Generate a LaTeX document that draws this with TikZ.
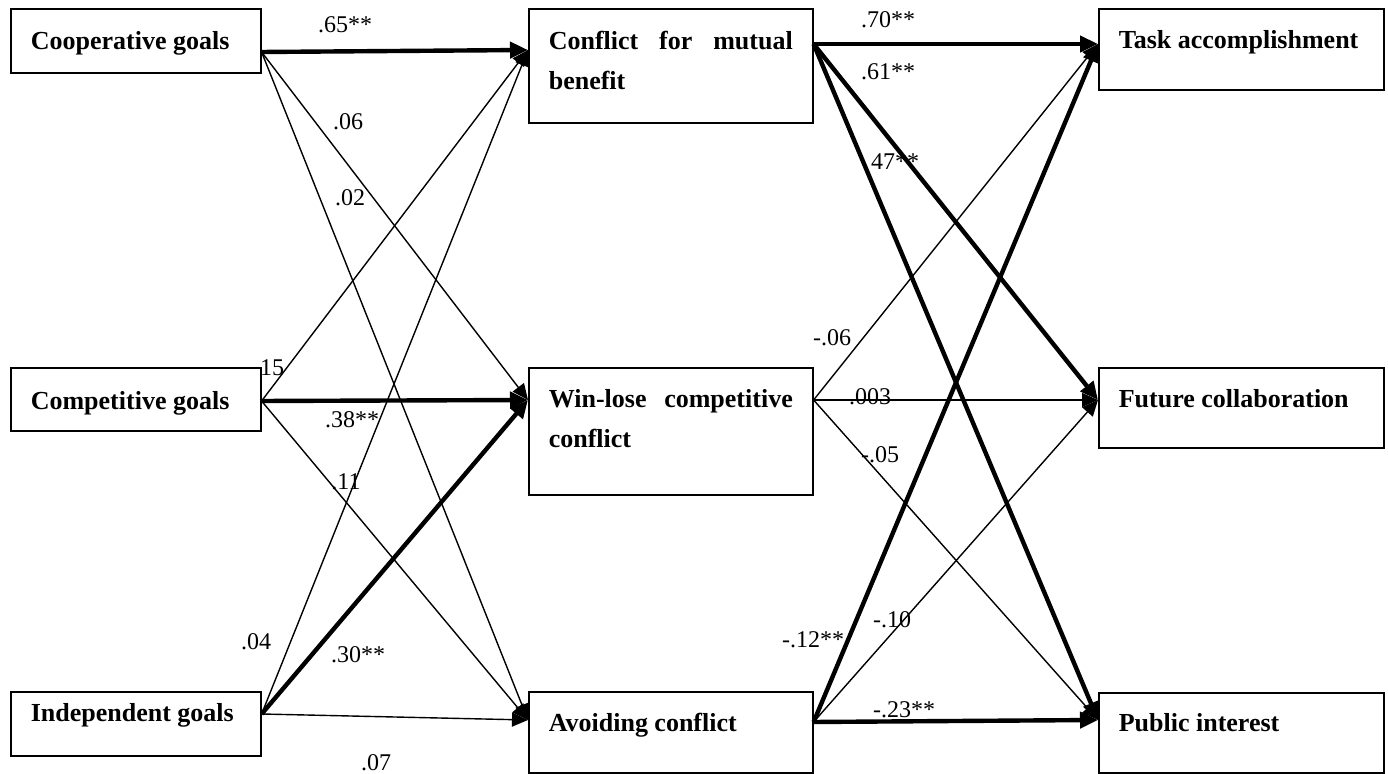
\documentclass[tikz,border=0pt]{standalone}
\usepackage{fontspec}
\setmainfont{Liberation Serif}
\usetikzlibrary{
    arrows.meta,
    calc,
    positioning,
}
% first-line height, last-line depth, text
\newcommand{\boxtext}[3]{\noindent\rule{0pt}{#1}#3\rule[-#2]{0pt}{0pt}}

\begin{document}
\begin{tikzpicture}[x=0.5pt,y=-0.5pt,>={Triangle[length=8pt,width=7pt]}]

                \tikzstyle{commonNode}=[anchor=north west, inner xsep=10pt, inner ysep=0pt, align=justify, font=\bfseries\fontsize{13}{20}\selectfont, line width=0.8pt, draw=black]
                \tikzstyle{leftBox}=[commonNode, text width=105pt]
                \tikzstyle{midBox}=[commonNode, text width=122pt]
                \tikzstyle{rightBox}=[commonNode, text width=122.5pt]
                \tikzstyle{weight}=[font=\fontsize{12}{14}\selectfont, inner sep=0pt]
                \tikzstyle{weak}=[->, line width=0.7pt]
                \tikzstyle{strong}=[-{Triangle[length=9pt,width=8pt]}, line width=2.2pt]

                \useasboundingbox (0,0) rectangle (1388,774);

                % Goal interdependence
                \node at (10,8) [leftBox] (coop) {\boxtext{20.4pt}{11.6pt}{Cooperative goals}};
                \node at (10,367) [leftBox] (comp) {\boxtext{20.9pt}{10.6pt}{Competitive goals}};
                \node at (10,691) [leftBox] (indep) {\boxtext{14.9pt}{17.1pt}{Independent goals}};

                % Conflict approaches
                \node at (528,8) [midBox] (conf) {\boxtext{20.4pt}{16.6pt}{Conflict for mutual benefit}};
                \node at (528,367) [midBox] (win) {\boxtext{19.9pt}{23.6pt}{Win-lose competitive conflict}};
                \node at (528,691) [midBox] (avoid) {\boxtext{19.9pt}{20.6pt}{Avoiding conflict}};

                % Outcomes
                \node at (1098,8) [rightBox] (task) {\boxtext{19.9pt}{20.6pt}{Task accomplishment}};
                \node at (1098,367) [rightBox] (future) {\boxtext{19.9pt}{20.1pt}{Future collaboration}};
                \node at (1098,692) [rightBox] (public) {\boxtext{19.4pt}{20.6pt}{Public interest}};

                % Attachment points
                \coordinate (coop-r) at ($(coop.north east)+(0,44)$);
                \coordinate (comp-r) at ($(comp.north east)+(0,34)$);
                \coordinate (indep-r) at ($(indep.north east)+(0,23)$);
                \coordinate (conf-l) at ($(conf.north west)+(0,42)$);
                \coordinate (conf-r) at ($(conf.north east)+(0,36)$);
                \coordinate (win-l) at ($(win.north west)+(0,33)$);
                \coordinate (win-r) at ($(win.north east)+(0,33)$);
                \coordinate (avoid-l) at ($(avoid.north west)+(0,29)$);
                \coordinate (avoid-r) at ($(avoid.north east)+(0,31)$);
                \coordinate (task-l) at ($(task.north west)+(0,36)$);
                \coordinate (future-l) at ($(future.north west)+(0,33)$);
                \coordinate (public-l) at ($(public.north west)+(0,28)$);

                % Paths, first stage
                \draw [strong] (coop-r) -- (conf-l);
                \draw [weak] (coop-r) -- (win-l);
                \draw [weak] (coop-r) -- (avoid-l);
                \draw [weak] (comp-r) -- (conf-l);
                \draw [strong] (comp-r) -- (win-l);
                \draw [weak] (comp-r) -- (avoid-l);
                \draw [weak] (indep-r) -- (conf-l);
                \draw [strong] (indep-r) -- (win-l);
                \draw [weak] (indep-r) -- (avoid-l);

                % Paths, second stage
                \draw [strong] (conf-r) -- (task-l);
                \draw [strong] (conf-r) -- (future-l);
                \draw [strong] (conf-r) -- (public-l);
                \draw [weak] (win-r) -- (task-l);
                \draw [weak] (win-r) -- (future-l);
                \draw [weak] (win-r) -- (public-l);
                \draw [strong] (avoid-r) -- (task-l);
                \draw [weak] (avoid-r) -- (future-l);
                \draw [strong] (avoid-r) -- (public-l);

                % Coefficients
                \node at (345,25) [weight] (w-coop-conf) {.65**};
                \node at (348,122) [weight] (w-coop-win) {.06};
                \node at (350,198) [weight] (w-coop-avoid) {.02};
                \node at (272,368) [weight] (w-comp-conf) {15};
                \node at (352,420) [weight] (w-comp-win) {.38**};
                \node at (346,482) [weight] (w-comp-avoid) {.11};
                \node at (256,642) [weight] (w-indep-conf) {.04};
                \node at (358,655) [weight] (w-indep-win) {.30**};
                \node at (376,763) [weight] (w-indep-avoid) {.07};
                \node at (888,20) [weight] (w-conf-task) {.70**};
                \node at (888,72) [weight] (w-conf-future) {.61**};
                \node at (895,162) [weight] (w-conf-public) {47**};
                \node at (832,338) [weight] (w-win-task) {-.06};
                \node at (870,397) [weight] (w-win-future) {.003};
                \node at (880,455) [weight] (w-win-public) {-.05};
                \node at (813,640) [weight] (w-avoid-task) {-.12**};
                \node at (892,620) [weight] (w-avoid-future) {-.10};
                \node at (904,710) [weight] (w-avoid-public) {-.23**};
\end{tikzpicture}
\end{document}
